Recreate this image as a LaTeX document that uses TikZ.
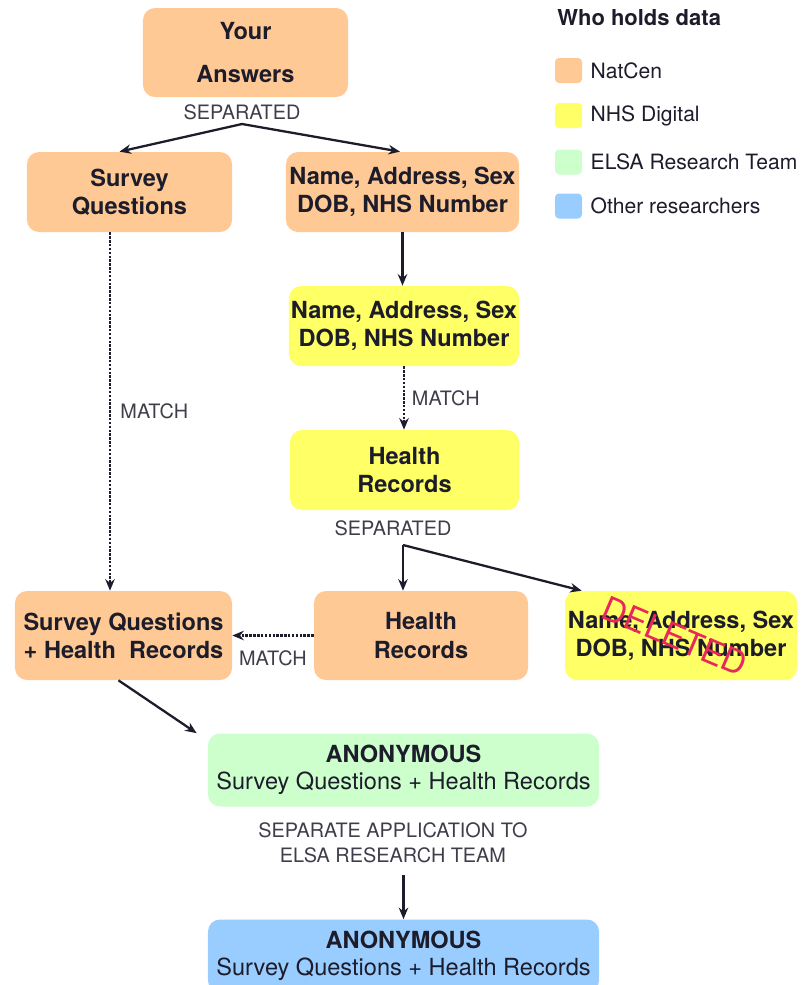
\documentclass[tikz,border=0pt]{standalone}
\usepackage{fontspec}
\setmainfont{TeX Gyre Heros}
\usetikzlibrary{
    arrows.meta,
    positioning
}
\definecolor{natcen}{HTML}{FFC995}
\definecolor{nhsd}{HTML}{FFFF66}
\definecolor{elsa}{HTML}{CCFFCC}
\definecolor{others}{HTML}{99CCFF}
\definecolor{ink}{HTML}{1C1C2B}
\definecolor{stamp}{HTML}{E8285A}
\tikzset{
    holder/.style={rounded corners=2.4mm, align=center, inner sep=0pt, text=ink,
        font=\bfseries\fontsize{13.4}{16}\selectfont},
    anon/.style={holder, minimum width=78.2mm, minimum height=14.6mm,
        font=\fontsize{13.4}{15.5}\selectfont},
    note/.style={text=ink!85, font=\fontsize{11.3}{14}\selectfont, align=center, inner sep=1pt},
    flow/.style={draw=ink, line width=1.3pt, -{Stealth[length=2.3mm,width=1.9mm]}},
    matchflow/.style={flow, line width=1.4pt, dash pattern=on 1.4pt off 0.8pt},
    swatch/.style={rounded corners=0.8mm, minimum width=5.4mm, minimum height=5mm, inner sep=0pt},
    key/.style={anchor=west, text=ink, font=\fontsize{12}{14}\selectfont, inner sep=0pt}
}

\begin{document}
\begin{tikzpicture}[x=0.2mm, y=-0.2mm]
                        \useasboundingbox (0, 0) rectangle (801, 985);
                        \clip (0, 0) rectangle (801, 985);
                        \node[holder, fill=natcen, minimum width=41mm, minimum height=17.8mm] (answers) at (245.5, 52.5) {Your\\[8.5pt]Answers};
                        \node[note] (sep1) at (242, 112) {SEPARATED};
                        \coordinate (split1) at (242, 124);
                        \node[holder, fill=natcen, minimum width=41mm, minimum height=16mm] (survey) at (129.5, 192) {Survey\\Questions};
                        \node[holder, fill=natcen, minimum width=46.6mm, minimum height=16mm] (natcenid) at (402.5, 192) {Name, Address, Sex\\DOB, NHS Number};
                        \node[holder, fill=nhsd, minimum width=46mm, minimum height=16mm] (nhsid) at (404, 326) {Name, Address, Sex\\DOB, NHS Number};
                        \node[holder, fill=nhsd, minimum width=45.8mm, minimum height=16mm] (nhshealth) at (404.5, 470) {Health\\Records};
                        \node[note] (sep2) at (393, 528) {SEPARATED};
                        \coordinate (split2) at (403, 545);
                        \node[holder, fill=natcen, minimum width=43.4mm, minimum height=17.8mm] (linked) at (123.5, 635.5) {Survey Questions\\+ Health~~Records};
                        \node[holder, fill=natcen, minimum width=42.8mm, minimum height=17.8mm] (natcenhealth) at (421, 635.5) {Health\\Records};
                        \node[holder, fill=nhsd, minimum width=46.4mm, minimum height=17.8mm] (deleted) at (681, 635.5) {Name, Address, Sex\\DOB, NHS Number};
                        \node[text=stamp, rotate=-23, font=\fontsize{19}{19}\selectfont] (stamp) at (675, 636) {DELETED};
                        \node[anon, fill=elsa] (anonelsa) at (403.5, 770) {\textbf{ANONYMOUS}\\Survey Questions + Health Records};
                        \node[note] (apply) at (393, 843) {SEPARATE APPLICATION TO\\ELSA RESEARCH TEAM};
                        \node[anon, fill=others] (anonother) at (403.5, 956) {\textbf{ANONYMOUS}\\Survey Questions + Health Records};

                        \node[anchor=west, text=ink, inner sep=0pt, font=\bfseries\fontsize{12.5}{14}\selectfont] (keytitle) at (557, 18) {Who holds data};
                        \node[swatch, fill=natcen] (keynatcen) at (568.5, 70.5) {};
                        \node[key, right=1.6mm of keynatcen] {NatCen};
                        \node[swatch, fill=nhsd] (keynhsd) at (568.5, 115.5) {};
                        \node[key, right=1.6mm of keynhsd] {NHS Digital};
                        \node[swatch, fill=elsa] (keyelsa) at (568.5, 162) {};
                        \node[key, right=1.6mm of keyelsa] {ELSA Research Team};
                        \node[swatch, fill=others] (keyothers) at (568.5, 206) {};
                        \node[key, right=1.6mm of keyothers] {Other researchers};

                        \draw[flow] (split1) -- ([xshift=-2mm]survey.north);
                        \draw[flow] (split1) -- ([xshift=-0.5mm]natcenid.north);
                        \draw[flow] (natcenid.south) -- (natcenid.south |- nhsid.north);
                        \draw[matchflow] (nhsid.south) -- (nhsid.south |- nhshealth.north) node[note, midway, right=1mm] {MATCH};
                        \draw[matchflow] ([xshift=-3.9mm]survey.south) -- ([xshift=-3.9mm]survey.south |- linked.north) node[note, midway, right=1.5mm] {MATCH};
                        \draw[flow] (split2) -- (split2 |- natcenhealth.north);
                        \draw[flow] (split2) -- ([xshift=3.4mm]deleted.north west);
                        \draw[matchflow] (natcenhealth.west) -- (linked.east) node[note, midway, below=2.5mm] {MATCH};
                        \draw[flow] ([xshift=-1mm]linked.south) -- ([xshift=-2.2mm]anonelsa.north west);
                        \draw[flow] ([yshift=-2mm]anonother.north |- apply.south) -- (anonother.north);
                    \end{tikzpicture}
\end{document}
